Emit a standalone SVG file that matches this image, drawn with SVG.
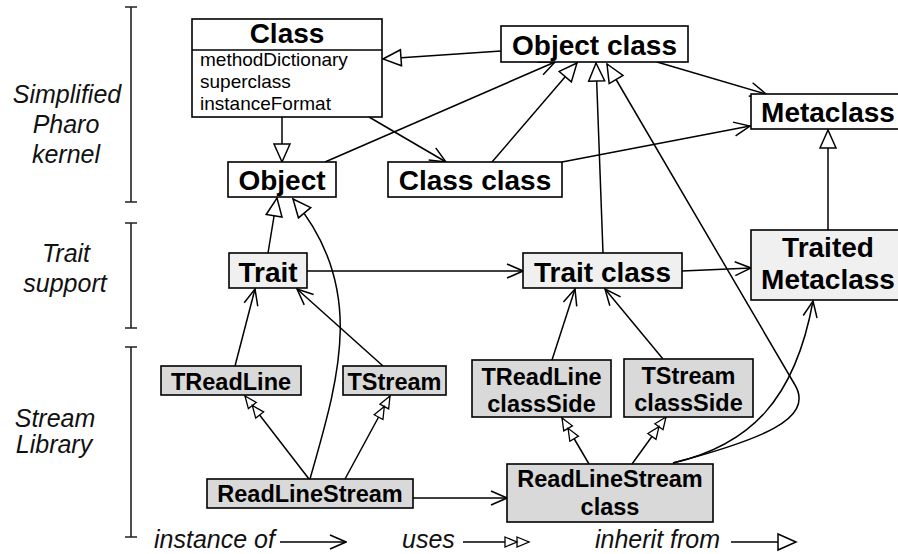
<svg xmlns="http://www.w3.org/2000/svg" width="898" height="554" viewBox="0 0 898 554">
<style>
.box{stroke:#000;stroke-width:1.6}
.w{fill:#fff}.l{fill:#f0f0f0}.g{fill:#d9d9d9}
.t1{font-family:"Liberation Sans",Arial,sans-serif;font-weight:bold;font-size:28px;text-anchor:middle;fill:#000}
.t2{font-family:"Liberation Sans",Arial,sans-serif;font-weight:bold;font-size:23.5px;text-anchor:middle;fill:#000}
.attr{font-family:"Liberation Sans",Arial,sans-serif;font-size:19px;fill:#000}
.side{font-family:"Liberation Sans",Arial,sans-serif;font-style:italic;font-size:25px;text-anchor:middle;fill:#111}
.leg{font-family:"Liberation Sans",Arial,sans-serif;font-style:italic;font-size:25px;fill:#111}
.br{stroke:#222;stroke-width:1.6;fill:none}
.c{fill:none;stroke:#000;stroke-width:1.5}
.inst{marker-end:url(#open)}
.inh{marker-end:url(#tri)}
.use{marker-end:url(#dbl)}
</style>
<defs>
<marker id="open" viewBox="-1 -1 18 16" refX="16" refY="7" markerWidth="18" markerHeight="16" markerUnits="userSpaceOnUse" orient="auto"><path d="M0,0 L16,7 L0,14" fill="none" stroke="#000" stroke-width="1.5"/></marker>
<marker id="tri" viewBox="-2 -2 22 20" refX="18" refY="8" markerWidth="22" markerHeight="20" markerUnits="userSpaceOnUse" orient="auto"><path d="M0,0 L18,8 L0,16 Z" fill="#fff" stroke="#000" stroke-width="1.5"/></marker>
<marker id="dbl" viewBox="-2 -2 28 14" refX="24" refY="5" markerWidth="28" markerHeight="14" markerUnits="userSpaceOnUse" orient="auto"><path d="M0,0 L12,5 L0,10 Z M12,0 L24,5 L12,10 Z" fill="#fff" stroke="#000" stroke-width="1.3"/></marker>
</defs>
<g id="layers">
<path class="br" d="M125,7 H137 M131,7 V202 M125,202 H137"/>
<path class="br" d="M125,223 H137 M131,223 V328 M125,328 H137"/>
<path class="br" d="M125,347 H137 M131,347 V537 M125,537 H137"/>
<text class="side" x="67" y="103">Simplified</text>
<text class="side" x="66" y="133">Pharo</text>
<text class="side" x="66" y="163">kernel</text>
<text class="side" x="66" y="262">Trait</text>
<text class="side" x="65" y="292">support</text>
<text class="side" x="55" y="427">Stream</text>
<text class="side" x="54" y="453">Library</text>
</g>
<g id="connectors">
<path class="c inh" d="M501,51 L383,59"/>
<path class="c inh" d="M282,117 L282,162"/>
<path class="c inh" d="M492,162 L577,63"/>
<path class="c inh" d="M603,253 L596,63"/>
<path class="c inh" d="M673,463 C760,440 815,419 795,385 L607,64"/>
<path class="c inh" d="M828,230 L828,130"/>
<path class="c inh" d="M268,253 L277,198"/>
<path class="c inh" d="M310,479 C338,380 368,288 293,199"/>
<path class="c inst" d="M369,117 L446,162"/>
<path class="c inst" d="M325,162 L555,62"/>
<path class="c inst" d="M657,62 L766,94"/>
<path class="c inst" d="M562,162 L750,126"/>
<path class="c inst" d="M307,271 L523,271"/>
<path class="c inst" d="M682,271 L751,268"/>
<path class="c inst" d="M235,366 L255,289"/>
<path class="c inst" d="M383,366 L297,289"/>
<path class="c inst" d="M413,498 L507,498"/>
<path class="c inst" d="M552,360 L575,289"/>
<path class="c inst" d="M663,359 L605,289"/>
<path class="c inst" d="M673,463 C750,445 795,400 813,301"/>
<path class="c use" d="M309,479 L245,396"/>
<path class="c use" d="M345,479 L390,396"/>
<path class="c use" d="M589,464 L562,418"/>
<path class="c use" d="M632,464 L666,417"/>
</g>
<g id="n-class">
<rect class="box w" x="192" y="19" width="190" height="98"/>
<line class="box" x1="192" y1="50" x2="382" y2="50"/>
<text class="t1" x="287" y="43">Class</text>
<text class="attr" x="200" y="66">methodDictionary</text>
<text class="attr" x="200" y="88">superclass</text>
<text class="attr" x="200" y="110">instanceFormat</text>
</g>
<g id="n-objectclass"><rect class="box w" x="501" y="26" width="187" height="36"/><text class="t1" x="594.5" y="55">Object class</text></g>
<g id="n-metaclass"><rect class="box w" x="751" y="94" width="150" height="35"/><text class="t1" x="828" y="122">Metaclass</text></g>
<g id="n-object"><rect class="box w" x="228" y="162" width="108" height="35"/><text class="t1" x="282" y="190">Object</text></g>
<g id="n-classclass"><rect class="box w" x="388" y="162" width="174" height="35"/><text class="t1" x="475" y="190">Class class</text></g>
<g id="n-trait"><rect class="box l" x="229" y="253" width="78" height="35"/><text class="t1" x="268" y="282">Trait</text></g>
<g id="n-traitclass"><rect class="box l" x="523" y="253" width="159" height="35"/><text class="t1" x="602.5" y="282">Trait class</text></g>
<g id="n-traitedmeta"><rect class="box l" x="751" y="230" width="150" height="70"/><text class="t1" x="828" y="257">Traited</text><text class="t1" x="828" y="289">Metaclass</text></g>
<g id="n-treadline"><rect class="box g" x="161" y="366" width="140" height="29"/><text class="t2" x="231" y="390">TReadLine</text></g>
<g id="n-tstream"><rect class="box g" x="343" y="366" width="103" height="29"/><text class="t2" x="394.5" y="390">TStream</text></g>
<g id="n-treadlinecs"><rect class="box g" x="472" y="360" width="139" height="57"/><text class="t2" x="541.5" y="385">TReadLine</text><text class="t2" x="541.5" y="412">classSide</text></g>
<g id="n-tstreamcs"><rect class="box g" x="624" y="359" width="129" height="58"/><text class="t2" x="688.5" y="384">TStream</text><text class="t2" x="688.5" y="411">classSide</text></g>
<g id="n-rls"><rect class="box g" x="207" y="479" width="206" height="29"/><text class="t2" x="310" y="502">ReadLineStream</text></g>
<g id="n-rlsclass"><rect class="box g" x="507" y="464" width="206" height="58"/><text class="t2" x="610" y="487">ReadLineStream</text><text class="t2" x="610" y="515">class</text></g>
<g id="legend">
<text class="leg" x="154" y="548">instance of</text>
<path class="c inst" d="M280,542 L346,542"/>
<text class="leg" x="402" y="548">uses</text>
<path class="c use" d="M463,542 L529,542"/>
<text class="leg" x="595" y="548">inherit from</text>
<path class="c inh" d="M731,542 L796,542"/>
</g>
</svg>
